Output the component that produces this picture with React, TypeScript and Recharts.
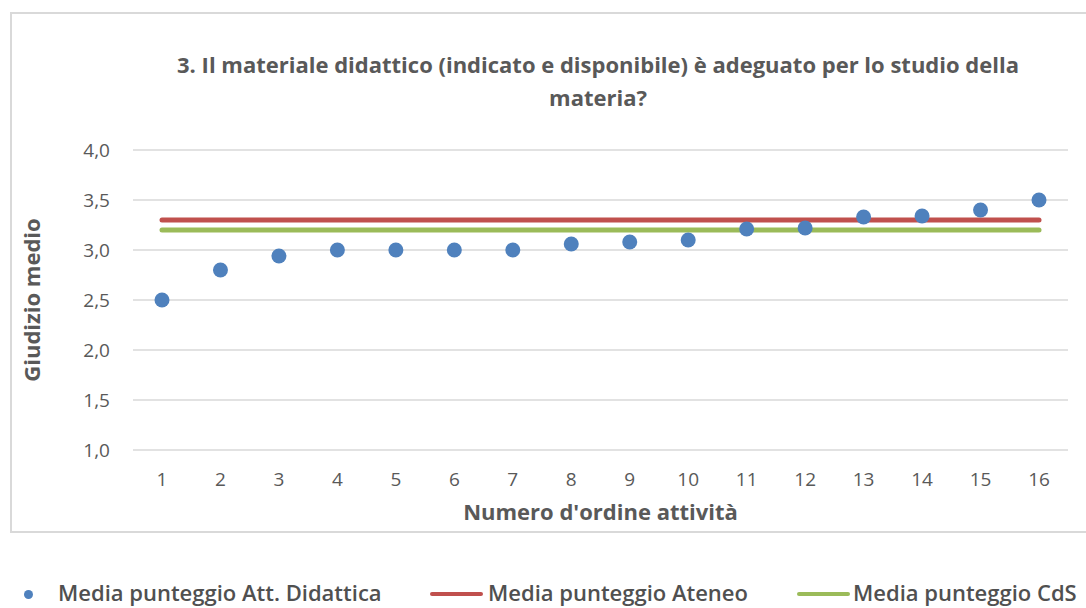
import { ComposedChart, Line, XAxis, YAxis, CartesianGrid, Label } from "recharts";

const activities = [1, 2, 3, 4, 5, 6, 7, 8, 9, 10, 11, 12, 13, 14, 15, 16];
const scoreActivity = [2.5, 2.8, 2.94, 3.0, 3.0, 3.0, 3.0, 3.06, 3.08, 3.1, 3.21, 3.22, 3.33, 3.34, 3.4, 3.5];
const scoreAteneo = [3.3, 3.3, 3.3, 3.3, 3.3, 3.3, 3.3, 3.3, 3.3, 3.3, 3.3, 3.3, 3.3, 3.3, 3.3, 3.3];
const scoreCdS = [3.2, 3.2, 3.2, 3.2, 3.2, 3.2, 3.2, 3.2, 3.2, 3.2, 3.2, 3.2, 3.2, 3.2, 3.2, 3.2];
const yTicks = [1, 1.5, 2, 2.5, 3, 3.5, 4];

const seriesNames = [
  "Media punteggio Att. Didattica",
  "Media punteggio Ateneo",
  "Media punteggio CdS",
];

const BLUE = "#4f81bd";
const RED = "#c0504d";
const GREEN = "#9bbb59";
const FONT = "'Open Sans', sans-serif";

const data = activities.map((n, i) => ({
  n,
  att: scoreActivity[i],
  ateneo: scoreAteneo[i],
  cds: scoreCdS[i],
}));

const fmt = (v: number) => v.toFixed(1).replace(".", ",");

export default function App() {
  return (
    <div style={{ position: "absolute", left: 0, top: 0, width: 1086, height: 608, fontFamily: FONT, background: "#fff" }}>
      {/* chart frame */}
      <div
        style={{
          position: "absolute",
          left: 10,
          top: 12,
          width: 1090,
          height: 517,
          border: "2px solid #d9d9d9",
        }}
      />
      <div
        style={{
          position: "absolute",
          left: 130,
          top: 48,
          width: 936,
          textAlign: "center",
          fontSize: 22,
          fontWeight: 700,
          lineHeight: "33px",
          color: "#595959",
        }}
      >
        3. Il materiale didattico (indicato e disponibile) è adeguato per lo studio della
        <br />
        materia?
      </div>
      <div style={{ position: "absolute", left: 0, top: 0 }}>
        <ComposedChart
          width={1086}
          height={608}
          data={data}
          margin={{ top: 150, right: 18, left: 10, bottom: 78 }}
        >
          <CartesianGrid vertical={false} stroke="#d9d9d9" strokeWidth={1.5} />
          <XAxis
            dataKey="n"
            axisLine={false}
            tickLine={false}
            tickSize={0}
            tickMargin={23}
            height={80}
            padding={{ left: 29, right: 29 }}
            tick={{ fill: "#595959", fontSize: 19, fontFamily: FONT }}
          >
            <Label
              value="Numero d'ordine attività"
              position="insideBottom"
              offset={10}
              style={{ fill: "#595959", fontSize: 22, fontWeight: 700, fontFamily: FONT }}
            />
          </XAxis>
          <YAxis
            domain={[1, 4]}
            ticks={yTicks}
            tickFormatter={fmt}
            axisLine={false}
            tickLine={false}
            tickSize={0}
            tickMargin={23}
            width={123}
            tick={{ fill: "#595959", fontSize: 19, fontFamily: FONT }}
          >
            <Label
              value="Giudizio medio"
              angle={-90}
              position="insideLeft"
              offset={22}
              style={{ textAnchor: "middle", fill: "#595959", fontSize: 22, fontWeight: 700, fontFamily: FONT }}
            />
          </YAxis>
          <Line
            dataKey="ateneo"
            stroke={RED}
            strokeWidth={5}
            strokeLinecap="round"
            dot={false}
            activeDot={false}
            isAnimationActive={false}
          />
          <Line
            dataKey="cds"
            stroke={GREEN}
            strokeWidth={5}
            strokeLinecap="round"
            dot={false}
            activeDot={false}
            isAnimationActive={false}
          />
          <Line
            dataKey="att"
            stroke="none"
            dot={{ r: 7.5, fill: BLUE, stroke: "none" }}
            activeDot={false}
            isAnimationActive={false}
          />
        </ComposedChart>
      </div>
      {/* legend */}
      <div style={{ position: "absolute", top: 577, left: 0, width: 1086, height: 30, fontSize: 22, fontWeight: 600, lineHeight: "30px", color: "#505050" }}>
        <div style={{ position: "absolute", left: 24, top: 13, width: 9, height: 9, borderRadius: "50%", background: BLUE }} />
        <span style={{ position: "absolute", left: 58, top: 0, whiteSpace: "nowrap" }}>{seriesNames[0]}</span>
        <div style={{ position: "absolute", left: 430, top: 15, width: 53, height: 4, borderRadius: 2, background: RED }} />
        <span style={{ position: "absolute", left: 488, top: 0, whiteSpace: "nowrap" }}>{seriesNames[1]}</span>
        <div style={{ position: "absolute", left: 797, top: 15, width: 53, height: 4, borderRadius: 2, background: GREEN }} />
        <span style={{ position: "absolute", left: 853, top: 0, whiteSpace: "nowrap" }}>{seriesNames[2]}</span>
      </div>
    </div>
  );
}
